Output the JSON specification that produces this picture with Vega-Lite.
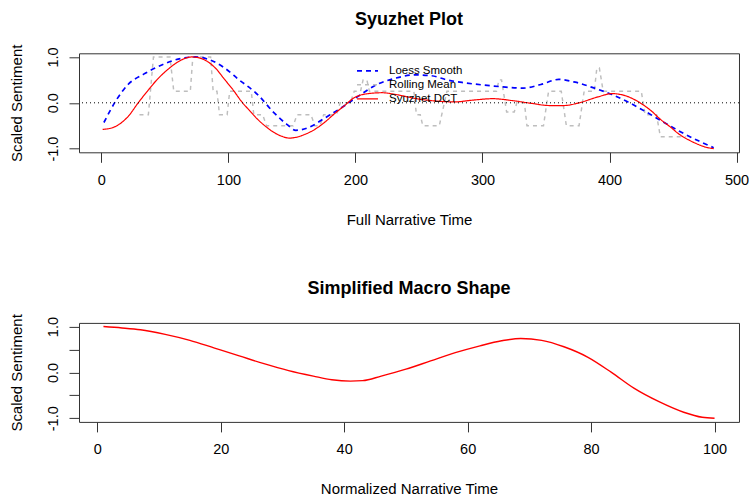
{
  "$schema": "https://vega.github.io/schema/vega-lite/v6.json",
  "padding": {"left": 9, "top": 9.3, "right": 0, "bottom": 0},
  "background": "white",
  "spacing": 50.6,
  "datasets": {
    "top": [
      {"s": "Rolling Mean", "t": 30, "v": -0.26}, {"s": "Rolling Mean", "t": 37, "v": -0.26}, {"s": "Rolling Mean", "t": 41, "v": 1.0}, {"s": "Rolling Mean", "t": 54, "v": 1.0},
      {"s": "Rolling Mean", "t": 57, "v": 0.25}, {"s": "Rolling Mean", "t": 70, "v": 0.25}, {"s": "Rolling Mean", "t": 72, "v": 1.0}, {"s": "Rolling Mean", "t": 86, "v": 1.0},
      {"s": "Rolling Mean", "t": 88, "v": 0.25}, {"s": "Rolling Mean", "t": 91, "v": 0.25}, {"s": "Rolling Mean", "t": 93, "v": -0.26}, {"s": "Rolling Mean", "t": 99, "v": -0.26},
      {"s": "Rolling Mean", "t": 101, "v": 0.25}, {"s": "Rolling Mean", "t": 118, "v": 0.25}, {"s": "Rolling Mean", "t": 120, "v": -0.26}, {"s": "Rolling Mean", "t": 127, "v": -0.26},
      {"s": "Rolling Mean", "t": 130, "v": -0.5}, {"s": "Rolling Mean", "t": 151, "v": -0.5}, {"s": "Rolling Mean", "t": 154, "v": -0.26}, {"s": "Rolling Mean", "t": 165, "v": -0.26},
      {"s": "Rolling Mean", "t": 168, "v": -0.5}, {"s": "Rolling Mean", "t": 172, "v": -0.5}, {"s": "Rolling Mean", "t": 175, "v": -0.26}, {"s": "Rolling Mean", "t": 185, "v": -0.26},
      {"s": "Rolling Mean", "t": 188, "v": 0.0}, {"s": "Rolling Mean", "t": 196, "v": 0.0}, {"s": "Rolling Mean", "t": 199, "v": 0.25}, {"s": "Rolling Mean", "t": 204, "v": 0.25},
      {"s": "Rolling Mean", "t": 206, "v": 0.5}, {"s": "Rolling Mean", "t": 209, "v": 0.5}, {"s": "Rolling Mean", "t": 211, "v": 0.25}, {"s": "Rolling Mean", "t": 246, "v": 0.25},
      {"s": "Rolling Mean", "t": 248, "v": -0.26}, {"s": "Rolling Mean", "t": 251, "v": -0.26}, {"s": "Rolling Mean", "t": 253, "v": -0.5}, {"s": "Rolling Mean", "t": 266, "v": -0.5},
      {"s": "Rolling Mean", "t": 272, "v": 0.25}, {"s": "Rolling Mean", "t": 311, "v": 0.25}, {"s": "Rolling Mean", "t": 313, "v": 0.5}, {"s": "Rolling Mean", "t": 315, "v": 0.5},
      {"s": "Rolling Mean", "t": 319, "v": -0.2}, {"s": "Rolling Mean", "t": 325, "v": -0.2}, {"s": "Rolling Mean", "t": 327, "v": 0.0}, {"s": "Rolling Mean", "t": 333, "v": 0.0},
      {"s": "Rolling Mean", "t": 335, "v": -0.5}, {"s": "Rolling Mean", "t": 348, "v": -0.5}, {"s": "Rolling Mean", "t": 352, "v": 0.25}, {"s": "Rolling Mean", "t": 362, "v": 0.25},
      {"s": "Rolling Mean", "t": 366, "v": -0.5}, {"s": "Rolling Mean", "t": 376, "v": -0.5}, {"s": "Rolling Mean", "t": 380, "v": 0.25}, {"s": "Rolling Mean", "t": 388, "v": 0.25},
      {"s": "Rolling Mean", "t": 390, "v": 0.76}, {"s": "Rolling Mean", "t": 392, "v": 0.76}, {"s": "Rolling Mean", "t": 395, "v": 0.25}, {"s": "Rolling Mean", "t": 425, "v": 0.25},
      {"s": "Rolling Mean", "t": 428, "v": -0.26}, {"s": "Rolling Mean", "t": 437, "v": -0.26}, {"s": "Rolling Mean", "t": 440, "v": -0.74}, {"s": "Rolling Mean", "t": 460, "v": -0.74},
      {"s": "Loess Smooth", "t": 2, "v": -0.43}, {"s": "Loess Smooth", "t": 12, "v": 0.07}, {"s": "Loess Smooth", "t": 21, "v": 0.4}, {"s": "Loess Smooth", "t": 33, "v": 0.62},
      {"s": "Loess Smooth", "t": 48, "v": 0.83}, {"s": "Loess Smooth", "t": 63, "v": 0.97}, {"s": "Loess Smooth", "t": 74, "v": 1.0}, {"s": "Loess Smooth", "t": 85, "v": 0.94},
      {"s": "Loess Smooth", "t": 97, "v": 0.76}, {"s": "Loess Smooth", "t": 108, "v": 0.51}, {"s": "Loess Smooth", "t": 123, "v": 0.18}, {"s": "Loess Smooth", "t": 136, "v": -0.22},
      {"s": "Loess Smooth", "t": 146, "v": -0.47}, {"s": "Loess Smooth", "t": 153, "v": -0.6}, {"s": "Loess Smooth", "t": 163, "v": -0.54}, {"s": "Loess Smooth", "t": 176, "v": -0.33},
      {"s": "Loess Smooth", "t": 191, "v": -0.07}, {"s": "Loess Smooth", "t": 202, "v": 0.14}, {"s": "Loess Smooth", "t": 217, "v": 0.4}, {"s": "Loess Smooth", "t": 232, "v": 0.54},
      {"s": "Loess Smooth", "t": 247, "v": 0.61}, {"s": "Loess Smooth", "t": 260, "v": 0.59}, {"s": "Loess Smooth", "t": 272, "v": 0.5}, {"s": "Loess Smooth", "t": 285, "v": 0.44},
      {"s": "Loess Smooth", "t": 300, "v": 0.39}, {"s": "Loess Smooth", "t": 315, "v": 0.35}, {"s": "Loess Smooth", "t": 332, "v": 0.32}, {"s": "Loess Smooth", "t": 346, "v": 0.4},
      {"s": "Loess Smooth", "t": 360, "v": 0.51}, {"s": "Loess Smooth", "t": 373, "v": 0.45}, {"s": "Loess Smooth", "t": 387, "v": 0.33}, {"s": "Loess Smooth", "t": 402, "v": 0.18},
      {"s": "Loess Smooth", "t": 413, "v": 0.04}, {"s": "Loess Smooth", "t": 425, "v": -0.14}, {"s": "Loess Smooth", "t": 440, "v": -0.38}, {"s": "Loess Smooth", "t": 455, "v": -0.62},
      {"s": "Loess Smooth", "t": 470, "v": -0.83}, {"s": "Loess Smooth", "t": 482, "v": -0.98},
      {"s": "Syuzhet DCT", "t": 1, "v": -0.58}, {"s": "Syuzhet DCT", "t": 8, "v": -0.55}, {"s": "Syuzhet DCT", "t": 14, "v": -0.47}, {"s": "Syuzhet DCT", "t": 21, "v": -0.3},
      {"s": "Syuzhet DCT", "t": 29, "v": 0.0}, {"s": "Syuzhet DCT", "t": 37, "v": 0.28}, {"s": "Syuzhet DCT", "t": 44, "v": 0.51}, {"s": "Syuzhet DCT", "t": 52, "v": 0.72},
      {"s": "Syuzhet DCT", "t": 59, "v": 0.87}, {"s": "Syuzhet DCT", "t": 65, "v": 0.96}, {"s": "Syuzhet DCT", "t": 71, "v": 1.0}, {"s": "Syuzhet DCT", "t": 77, "v": 0.98},
      {"s": "Syuzhet DCT", "t": 83, "v": 0.91}, {"s": "Syuzhet DCT", "t": 90, "v": 0.75}, {"s": "Syuzhet DCT", "t": 97, "v": 0.51}, {"s": "Syuzhet DCT", "t": 104, "v": 0.27},
      {"s": "Syuzhet DCT", "t": 110, "v": 0.04}, {"s": "Syuzhet DCT", "t": 117, "v": -0.18}, {"s": "Syuzhet DCT", "t": 123, "v": -0.36}, {"s": "Syuzhet DCT", "t": 130, "v": -0.53},
      {"s": "Syuzhet DCT", "t": 136, "v": -0.65}, {"s": "Syuzhet DCT", "t": 142, "v": -0.73}, {"s": "Syuzhet DCT", "t": 148, "v": -0.77}, {"s": "Syuzhet DCT", "t": 155, "v": -0.74},
      {"s": "Syuzhet DCT", "t": 161, "v": -0.68}, {"s": "Syuzhet DCT", "t": 168, "v": -0.58}, {"s": "Syuzhet DCT", "t": 176, "v": -0.42}, {"s": "Syuzhet DCT", "t": 183, "v": -0.25},
      {"s": "Syuzhet DCT", "t": 191, "v": -0.07}, {"s": "Syuzhet DCT", "t": 199, "v": 0.11}, {"s": "Syuzhet DCT", "t": 210, "v": 0.2}, {"s": "Syuzhet DCT", "t": 221, "v": 0.22},
      {"s": "Syuzhet DCT", "t": 232, "v": 0.18}, {"s": "Syuzhet DCT", "t": 248, "v": 0.09}, {"s": "Syuzhet DCT", "t": 263, "v": 0.04}, {"s": "Syuzhet DCT", "t": 278, "v": 0.02},
      {"s": "Syuzhet DCT", "t": 293, "v": 0.06}, {"s": "Syuzhet DCT", "t": 308, "v": 0.09}, {"s": "Syuzhet DCT", "t": 323, "v": 0.05}, {"s": "Syuzhet DCT", "t": 338, "v": -0.01},
      {"s": "Syuzhet DCT", "t": 353, "v": -0.06}, {"s": "Syuzhet DCT", "t": 364, "v": -0.06}, {"s": "Syuzhet DCT", "t": 376, "v": 0.0}, {"s": "Syuzhet DCT", "t": 391, "v": 0.13},
      {"s": "Syuzhet DCT", "t": 402, "v": 0.2}, {"s": "Syuzhet DCT", "t": 413, "v": 0.15}, {"s": "Syuzhet DCT", "t": 424, "v": 0.0}, {"s": "Syuzhet DCT", "t": 433, "v": -0.18},
      {"s": "Syuzhet DCT", "t": 440, "v": -0.36}, {"s": "Syuzhet DCT", "t": 448, "v": -0.53}, {"s": "Syuzhet DCT", "t": 455, "v": -0.69}, {"s": "Syuzhet DCT", "t": 463, "v": -0.82},
      {"s": "Syuzhet DCT", "t": 470, "v": -0.91}, {"s": "Syuzhet DCT", "t": 476, "v": -0.97}, {"s": "Syuzhet DCT", "t": 482, "v": -1.0}
    ],
    "macro": [
      {"t": 1, "v": 1.0}, {"t": 4, "v": 0.97}, {"t": 7, "v": 0.93}, {"t": 11, "v": 0.83}, {"t": 15, "v": 0.7},
      {"t": 19, "v": 0.53}, {"t": 23, "v": 0.36}, {"t": 27, "v": 0.19}, {"t": 31, "v": 0.04}, {"t": 35, "v": -0.08},
      {"t": 38, "v": -0.16}, {"t": 41, "v": -0.19}, {"t": 43, "v": -0.18}, {"t": 46, "v": -0.08}, {"t": 50, "v": 0.07},
      {"t": 54, "v": 0.25}, {"t": 58, "v": 0.43}, {"t": 62, "v": 0.58}, {"t": 65.5, "v": 0.69}, {"t": 68.6, "v": 0.74},
      {"t": 72, "v": 0.7}, {"t": 75.6, "v": 0.56}, {"t": 79.5, "v": 0.33}, {"t": 83.3, "v": 0.0}, {"t": 87, "v": -0.35},
      {"t": 91, "v": -0.64}, {"t": 95, "v": -0.87}, {"t": 98, "v": -0.98}, {"t": 100, "v": -1.0}
    ]
  },
  "config": {
    "font": "Liberation Sans",
    "view": {"stroke": "#333333", "strokeWidth": 1},
    "axis": {
      "grid": false, "domain": false, "tickColor": "#333333", "tickSize": 10, "tickWidth": 1,
      "labelFont": "Liberation Sans", "labelFontSize": 14.5, "labelColor": "black", "labelFlush": false, "labelOverlap": false,
      "titleFont": "Liberation Sans", "titleFontSize": 15, "titleFontWeight": "normal", "titleColor": "black"
    },
    "axisX": {"labelPadding": 11, "titlePadding": 25.3},
    "axisY": {"labelAngle": -90, "labelAlign": "center", "labelBaseline": "bottom", "labelPadding": 8.5, "titlePadding": 21},
    "title": {"font": "Liberation Sans", "fontSize": 18, "fontWeight": "bold", "color": "black", "anchor": "middle", "frame": "group"},
    "legend": {
      "orient": "none", "legendX": 281.5, "legendY": 10.5, "padding": 0,
      "symbolType": "M-1.75,0H1.75", "symbolSize": 144, "symbolStrokeWidth": 1.5, "symbolFillColor": "transparent",
      "labelFont": "Liberation Sans", "labelFontSize": 11.5, "labelColor": "black", "labelOffset": 14.5, "rowPadding": 1
    }
  },
  "vconcat": [
    {
      "title": {"text": "Syuzhet Plot", "offset": 15.5},
      "width": 660,
      "height": 99,
      "layer": [
        {
          "data": {"name": "top"},
          "encoding": {
            "x": {"field": "t", "type": "quantitative", "scale": {"domain": [-17.6, 501.9], "nice": false, "zero": false},
                  "axis": {"values": [0, 100, 200, 300, 400, 500], "title": "Full Narrative Time"}},
            "y": {"field": "v", "type": "quantitative", "scale": {"domain": [-1.08, 1.08], "nice": false, "zero": false},
                  "axis": {"values": [-1, -0.5, 0, 0.5, 1], "title": "Scaled Sentiment",
                           "labelExpr": "datum.value == 1 ? '1.0' : datum.value == 0 ? '0.0' : datum.value == -1 ? '-1.0' : ''"}},
            "color": {"field": "s", "type": "nominal",
                      "scale": {"domain": ["Loess Smooth", "Rolling Mean", "Syuzhet DCT"], "range": ["#0000ff", "#bebebe", "#ff0000"]},
                      "legend": {"title": null}},
            "strokeDash": {"field": "s", "type": "nominal",
                           "scale": {"domain": ["Loess Smooth", "Rolling Mean", "Syuzhet DCT"], "range": [[5, 4], [4, 4], [1, 0]]},
                           "legend": {"title": null}},
            "strokeWidth": {"field": "s", "type": "nominal",
                            "scale": {"domain": ["Loess Smooth", "Rolling Mean", "Syuzhet DCT"], "range": [1.7, 1.2, 1.9]},
                            "legend": null}
          },
          "layer": [
            {
              "transform": [{"filter": "datum.s == 'Rolling Mean'"}],
              "mark": {"type": "line", "clip": true}
            },
            {
              "transform": [{"filter": "datum.s != 'Rolling Mean'"}],
              "mark": {"type": "line", "clip": true, "interpolate": "monotone"}
            }
          ]
        },
        {
          "data": {"values": [{"h": 0}]},
          "mark": {"type": "rule", "strokeDash": [1, 3], "color": "black", "strokeWidth": 1},
          "encoding": {"y": {"field": "h", "type": "quantitative"}}
        }
      ]
    },
    {
      "title": {"text": "Simplified Macro Shape", "offset": 15.5},
      "width": 660,
      "height": 99,
      "data": {"name": "macro"},
      "mark": {"type": "line", "color": "#ff0000", "strokeWidth": 1.4, "interpolate": "monotone"},
      "encoding": {
        "x": {"field": "t", "type": "quantitative", "scale": {"domain": [-2.96, 103.96], "nice": false, "zero": false},
              "axis": {"values": [0, 20, 40, 60, 80, 100], "title": "Normalized Narrative Time"}},
        "y": {"field": "v", "type": "quantitative", "scale": {"domain": [-1.08, 1.08], "nice": false, "zero": false},
              "axis": {"values": [-1, -0.5, 0, 0.5, 1], "title": "Scaled Sentiment",
                       "labelExpr": "datum.value == 1 ? '1.0' : datum.value == 0 ? '0.0' : datum.value == -1 ? '-1.0' : ''"}}
      }
    }
  ]
}
